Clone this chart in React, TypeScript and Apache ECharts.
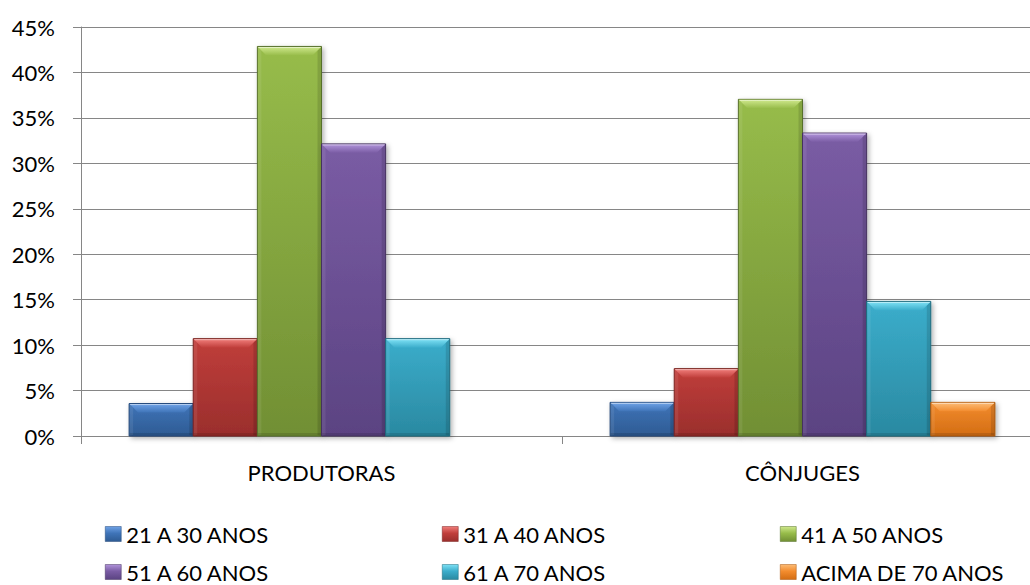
import { useEffect, useRef } from "react";
import * as echarts from "echarts";

// Age distribution (%) of the two groups
const categories = ["PRODUTORAS", "CÔNJUGES"];
const ageGroups = [
  "21 A 30 ANOS",
  "31 A 40 ANOS",
  "41 A 50 ANOS",
  "51 A 60 ANOS",
  "61 A 70 ANOS",
  "ACIMA DE 70 ANOS",
];
const produtoras = [3.57, 10.71, 42.86, 32.14, 10.71, 0];
const conjuges = [3.7, 7.41, 37.04, 33.33, 14.81, 3.7];

// Bevelled bar shading per age group: [top bevel, body top, body bottom, edge]
const shades = [
  ["#6fa2e6", "#3f74b8", "#2e5b93", "#24497a"],
  ["#f07d7a", "#c03e3b", "#9a2e2c", "#7a2220"],
  ["#cfe88c", "#97bc4a", "#718f34", "#56702a"],
  ["#b093da", "#7a5ca4", "#5b4382", "#45325f"],
  ["#7ee1f5", "#3badcb", "#2a89a1", "#1d6a7d"],
  ["#fcbc76", "#f38c2e", "#d36d13", "#a9560e"],
];

const FONT = "Lato";

function makeRenderItem(seriesIdx: number) {
  const [bevel, bodyTop, bodyBottom, edge] = shades[seriesIdx];
  return (_params: any, api: any) => {
    const cat = api.value(0);
    const val = api.value(1);
    if (!val) return { type: "group", children: [] };
    const base = api.coord([cat, 0]);
    const top = api.coord([cat, val]);
    const catW = api.size([1, 0])[0];
    const groupW = catW * 0.8;
    const bw = groupW / ageGroups.length;
    const x0 = base[0] - groupW / 2 + seriesIdx * bw;
    const x1 = x0 + bw;
    const y0 = top[1];
    const y1 = base[1];
    const h = y1 - y0;
    const b = Math.min(9, h / 2, bw / 2);
    const s = Math.min(4, b);
    return {
      type: "group",
      children: [
        {
          type: "rect",
          shape: { x: x0, y: y0, width: bw, height: h },
          style: {
            fill: new echarts.graphic.LinearGradient(0, 0, 0, 1, [
              { offset: 0, color: bodyTop },
              { offset: 1, color: bodyBottom },
            ]),
            stroke: edge,
            lineWidth: 1,
            shadowBlur: 5,
            shadowOffsetX: 2,
            shadowOffsetY: 2,
            shadowColor: "rgba(0,0,0,0.3)",
          },
        },
        {
          // left side bevel
          type: "polygon",
          shape: {
            points: [
              [x0 + 0.5, y0 + 0.5],
              [x0 + s, y0 + s],
              [x0 + s, y1 - 1],
              [x0 + 0.5, y1 - 0.5],
            ],
          },
          style: { fill: "rgba(255,255,255,0.08)" },
        },
        {
          // right side bevel
          type: "polygon",
          shape: {
            points: [
              [x1 - 0.5, y0 + 0.5],
              [x1 - s, y0 + s],
              [x1 - s, y1 - 1],
              [x1 - 0.5, y1 - 0.5],
            ],
          },
          style: { fill: "rgba(0,0,0,0.12)" },
        },
        {
          // top bevel
          type: "polygon",
          shape: {
            points: [
              [x0 + 0.5, y0 + 0.5],
              [x1 - 0.5, y0 + 0.5],
              [x1 - b, y0 + b],
              [x0 + b, y0 + b],
            ],
          },
          style: {
            fill: new echarts.graphic.LinearGradient(0, 0, 0, 1, [
              { offset: 0, color: bevel },
              { offset: 1, color: bodyTop },
            ]),
          },
        },
        {
          // highlight along the top edge
          type: "line",
          shape: { x1: x0 + 1, y1: y0 + 1, x2: x1 - 1, y2: y0 + 1 },
          style: { stroke: "rgba(255,255,255,0.5)", lineWidth: 1 },
        },
        {
          // bottom edge
          type: "rect",
          shape: { x: x0 + 0.5, y: y1 - 3, width: bw - 1, height: 2.5 },
          style: { fill: "rgba(0,0,0,0.12)" },
        },
      ],
    };
  };
}

// Legend grid: three columns, two rows
const legendCols = [105, 442, 780];
const legendRows = [523, 561];

export default function App() {
  const ref = useRef<HTMLDivElement>(null);

  useEffect(() => {
    if (!ref.current) return;
    const chart = echarts.init(ref.current, null, { renderer: "svg" });

    const series = ageGroups.map((name, i) => ({
      name,
      type: "custom",
      renderItem: makeRenderItem(i),
      encode: { x: 0, y: 1 },
      itemStyle: { color: shades[i][1] },
      data: [
        [0, produtoras[i]],
        [1, conjuges[i]],
      ],
    }));

    const legends = ageGroups.map((name, i) => ({
      orient: "horizontal",
      left: legendCols[i % 3],
      top: legendRows[Math.floor(i / 3)],
      itemWidth: 16,
      itemHeight: 15,
      icon: "rect",
      selectedMode: false,
      padding: 0,
      textStyle: { fontFamily: FONT, fontSize: 22, color: "#000", lineHeight: 22 },
      data: [
        {
          name,
          itemStyle: {
            color: new echarts.graphic.LinearGradient(0, 0, 0, 1, [
              { offset: 0, color: shades[i][0] },
              { offset: 0.45, color: shades[i][1] },
              { offset: 1, color: shades[i][2] },
            ]),
            borderColor: shades[i][3],
            borderWidth: 0.5,
          },
        },
      ],
    }));

    chart.setOption({
      animation: false,
      backgroundColor: "#fff",
      grid: { left: 81, right: 0, top: 27, bottom: 149 },
      legend: legends,
      xAxis: {
        type: "category",
        data: categories,
        axisLine: { show: true, lineStyle: { color: "#868686", width: 1 } },
        axisTick: { show: true, length: 8, lineStyle: { color: "#868686" } },
        axisLabel: { fontFamily: FONT, fontSize: 22, color: "#000", margin: 25 },
      },
      yAxis: {
        type: "value",
        min: 0,
        max: 45,
        interval: 5,
        axisLine: { show: true, lineStyle: { color: "#868686", width: 1 } },
        axisTick: { show: true, length: 8, lineStyle: { color: "#868686" } },
        splitLine: { show: true, lineStyle: { color: "#868686", width: 1 } },
        axisLabel: {
          fontFamily: FONT,
          fontSize: 22,
          color: "#000",
          margin: 26,
          formatter: "{value}%",
        },
      },
      series,
    });

    return () => chart.dispose();
  }, []);

  return (
    <div
      style={{
        position: "fixed",
        left: 0,
        top: 0,
        width: 1030,
        height: 585,
        overflow: "hidden",
        background: "#fff",
      }}
    >
      <div ref={ref} style={{ width: 1043, height: 585 }} />
    </div>
  );
}
